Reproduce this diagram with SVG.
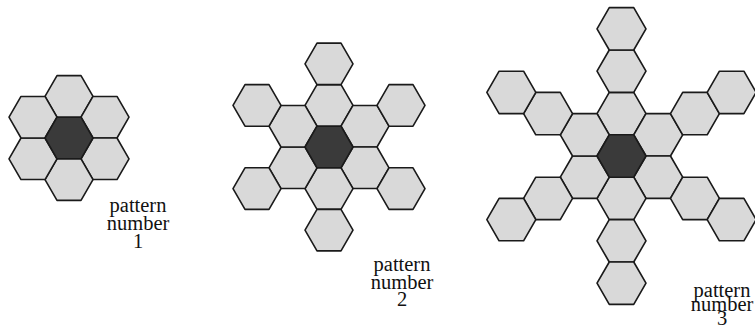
<svg xmlns="http://www.w3.org/2000/svg" xmlns:xlink="http://www.w3.org/1999/xlink" width="755" height="326" viewBox="0 0 755 326">
<style>
.hex{fill:#d9d9d9;stroke:#1a1a1a;stroke-width:1.6;stroke-linejoin:round}
.dark{fill:#3a3a3a}
.lbl{font-family:"Liberation Serif","Times New Roman",serif;font-size:20.5px;fill:#111;text-anchor:middle}
</style>
<defs>
<polygon id="h" points="24,0 12,20.78 -12,20.78 -24,0 -12,-20.78 12,-20.78"/>
</defs>
<rect width="755" height="326" fill="#fff"/>
<g id="pattern1" transform="translate(69,138)">
<use id="p1-n" class="hex" xlink:href="#h" x="0" y="-41.57"/>
<use id="p1-ne" class="hex" xlink:href="#h" x="36" y="-20.78"/>
<use id="p1-se" class="hex" xlink:href="#h" x="36" y="20.78"/>
<use id="p1-s" class="hex" xlink:href="#h" x="0" y="41.57"/>
<use id="p1-sw" class="hex" xlink:href="#h" x="-36" y="20.78"/>
<use id="p1-nw" class="hex" xlink:href="#h" x="-36" y="-20.78"/>
<use id="p1-c" class="hex dark" xlink:href="#h" x="0" y="0"/>
</g>
<g id="pattern2" transform="translate(329,147)">
<use id="p2-n1" class="hex" xlink:href="#h" x="0" y="-41.57"/>
<use id="p2-n2" class="hex" xlink:href="#h" x="0" y="-83.14"/>
<use id="p2-ne1" class="hex" xlink:href="#h" x="36" y="-20.78"/>
<use id="p2-ne2" class="hex" xlink:href="#h" x="72" y="-41.57"/>
<use id="p2-se1" class="hex" xlink:href="#h" x="36" y="20.78"/>
<use id="p2-se2" class="hex" xlink:href="#h" x="72" y="41.57"/>
<use id="p2-s1" class="hex" xlink:href="#h" x="0" y="41.57"/>
<use id="p2-s2" class="hex" xlink:href="#h" x="0" y="83.14"/>
<use id="p2-sw1" class="hex" xlink:href="#h" x="-36" y="20.78"/>
<use id="p2-sw2" class="hex" xlink:href="#h" x="-72" y="41.57"/>
<use id="p2-nw1" class="hex" xlink:href="#h" x="-36" y="-20.78"/>
<use id="p2-nw2" class="hex" xlink:href="#h" x="-72" y="-41.57"/>
<use id="p2-c" class="hex dark" xlink:href="#h" x="0" y="0"/>
</g>
<g id="pattern3" transform="translate(621.5,156) scale(1.02)">
<use id="p3-n1" class="hex" xlink:href="#h" x="0" y="-41.57"/>
<use id="p3-n2" class="hex" xlink:href="#h" x="0" y="-83.14"/>
<use id="p3-n3" class="hex" xlink:href="#h" x="0" y="-124.71"/>
<use id="p3-ne1" class="hex" xlink:href="#h" x="36" y="-20.78"/>
<use id="p3-ne2" class="hex" xlink:href="#h" x="72" y="-41.57"/>
<use id="p3-ne3" class="hex" xlink:href="#h" x="108" y="-62.35"/>
<use id="p3-se1" class="hex" xlink:href="#h" x="36" y="20.78"/>
<use id="p3-se2" class="hex" xlink:href="#h" x="72" y="41.57"/>
<use id="p3-se3" class="hex" xlink:href="#h" x="108" y="62.35"/>
<use id="p3-s1" class="hex" xlink:href="#h" x="0" y="41.57"/>
<use id="p3-s2" class="hex" xlink:href="#h" x="0" y="83.14"/>
<use id="p3-s3" class="hex" xlink:href="#h" x="0" y="124.71"/>
<use id="p3-sw1" class="hex" xlink:href="#h" x="-36" y="20.78"/>
<use id="p3-sw2" class="hex" xlink:href="#h" x="-72" y="41.57"/>
<use id="p3-sw3" class="hex" xlink:href="#h" x="-108" y="62.35"/>
<use id="p3-nw1" class="hex" xlink:href="#h" x="-36" y="-20.78"/>
<use id="p3-nw2" class="hex" xlink:href="#h" x="-72" y="-41.57"/>
<use id="p3-nw3" class="hex" xlink:href="#h" x="-108" y="-62.35"/>
<use id="p3-c" class="hex dark" xlink:href="#h" x="0" y="0"/>
</g>
<g id="labels">
<text class="lbl" x="138"><tspan x="138" y="212">pattern</tspan><tspan x="138" y="230">number</tspan><tspan x="138" y="248">1</tspan></text>
<text class="lbl" x="402"><tspan x="402" y="271">pattern</tspan><tspan x="402" y="289">number</tspan><tspan x="402" y="306">2</tspan></text>
<text class="lbl" x="722"><tspan x="722" y="297">pattern</tspan><tspan x="722" y="311">number</tspan><tspan x="722" y="325">3</tspan></text>
</g>
</svg>
